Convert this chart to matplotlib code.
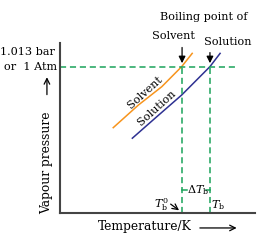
import matplotlib.pyplot as plt

# vapour pressure curves (arbitrary units)
solvent_T = [27.3, 40.2, 52.2, 62.4, 67.8]
solvent_p = [50.2, 63.5, 74.3, 86.1, 93.9]
solution_T = [37.1, 48.7, 62.4, 76.9, 82.1]
solution_p = [44.0, 55.7, 69.4, 86.1, 93.9]

p_atm = 86.0
tb0 = 62.6
tb = 76.9

orange = '#f7941d'
blue = '#2e3192'
green = '#1aa35a'
grey = '#444444'

plt.rcParams['font.family'] = 'DejaVu Serif'
plt.rcParams['mathtext.fontset'] = 'dejavuserif'

fig = plt.figure(figsize=(2.57, 2.41), dpi=100)
ax = fig.add_axes([60/257, 28/241, 195/257, 170/241])
ax.set_xlim(0, 100)
ax.set_ylim(0, 100)

ax.plot(solvent_T, solvent_p, color=orange, lw=1.1)
ax.plot(solution_T, solution_p, color=blue, lw=1.1)

dash = dict(color=green, lw=1.1, ls=(0, (4, 2.5)))
ax.plot([0, 90.8], [p_atm, p_atm], **dash)
ax.plot([tb0, tb0], [0, p_atm], **dash)
ax.plot([tb, tb], [0, p_atm], **dash)
ax.plot([tb0, tb0 + 2.6], [13.5, 13.5], color=green, lw=1.1)
ax.plot([tb - 2.2, tb], [13.5, 13.5], color=green, lw=1.1)

for s in ['top', 'right']:
    ax.spines[s].set_visible(False)
for s in ['left', 'bottom']:
    ax.spines[s].set_color(grey)
    ax.spines[s].set_linewidth(1.5)
ax.set_xticks([])
ax.set_yticks([])

fs = 8.1
fl = 8.8
arrow = dict(arrowstyle='->', color='black', lw=0.9)
ax.text(73.8, 115.3, 'Boiling point of', ha='center', va='center', fontsize=fs)
ax.text(58, 104.1, 'Solvent', ha='center', va='center', fontsize=fs)
ax.text(86.2, 100.6, 'Solution', ha='center', va='center', fontsize=fs)
ax.annotate('', xy=(tb0, p_atm + 0.5), xytext=(tb0, 99), arrowprops=dict(arrowstyle='-|>', color='black', lw=0.9), annotation_clip=False)
ax.annotate('', xy=(tb, p_atm + 0.5), xytext=(tb, 96), arrowprops=dict(arrowstyle='-|>', color='black', lw=0.9), annotation_clip=False)

ax.text(-2.6, 94.7, '1.013 bar', ha='right', va='center', fontsize=fs)
ax.text(-1.5, 86, 'or  1 Atm', ha='right', va='center', fontsize=fs)

ax.text(-6.7, 29.4, 'Vapour pressure', rotation=90, ha='center', va='center', fontsize=fl)
ax.annotate('', xy=(-6.7, 81.5), xytext=(-6.7, 68), arrowprops=arrow, annotation_clip=False)
ax.text(43.6, -8.2, 'Temperature/K', ha='center', va='center', fontsize=fl)
ax.annotate('', xy=(92, -8.8), xytext=(70.3, -8.8), arrowprops=arrow, annotation_clip=False)

ax.text(43.6, 71.2, 'Solvent', rotation=42, ha='center', va='center', fontsize=fs)
ax.text(49.6, 61.6, 'Solution', rotation=42, ha='center', va='center', fontsize=fs)

ax.text(52.2, 4.7, r'$T_{\rm b}^{0}$', ha='center', va='center', fontsize=fs)
ax.annotate('', xy=(62.2, 0.6), xytext=(55.6, 6.2), arrowprops=arrow, annotation_clip=False)
ax.text(70.8, 13.5, r'$\Delta T_{\rm b}$', ha='center', va='center', fontsize=fs)
ax.text(81, 4.7, r'$T_{\rm b}$', ha='center', va='center', fontsize=fs)

fig.savefig('out.png', dpi=100)
